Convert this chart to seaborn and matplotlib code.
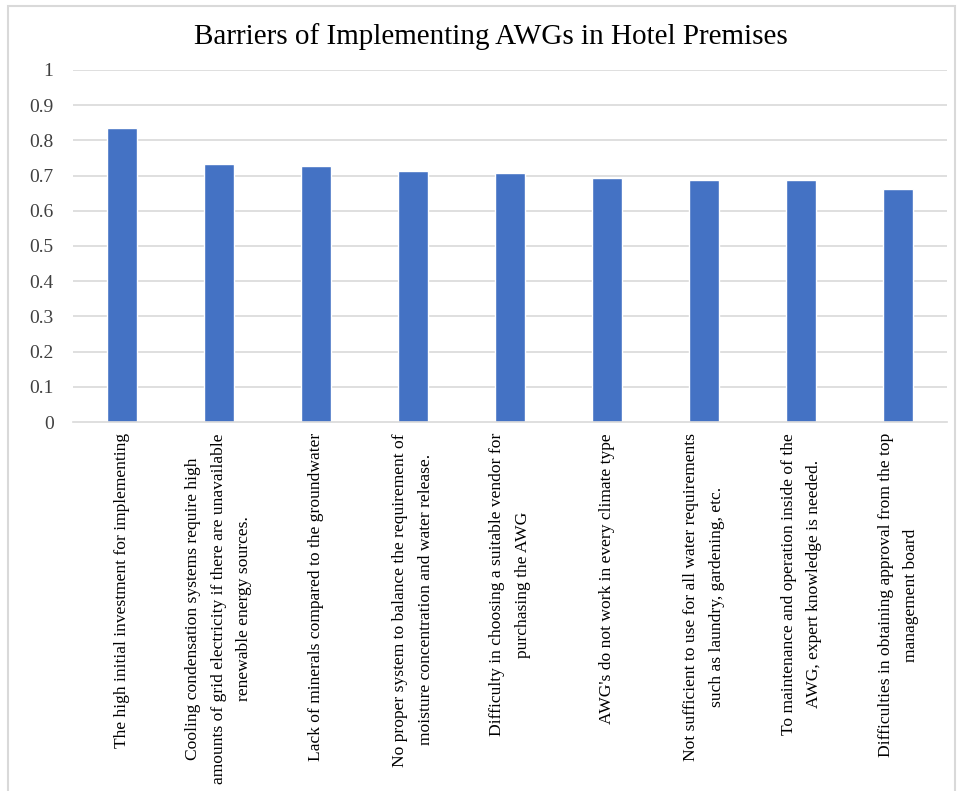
import matplotlib
matplotlib.use("Agg")
import matplotlib.pyplot as plt
import seaborn as sns
import pandas as pd
from matplotlib.patches import Rectangle

categories = [
    "The high initial investment for implementing",
    "Cooling condensation systems require high\namounts of grid electricity if there are unavailable\nrenewable energy sources.",
    "Lack of minerals compared to the groundwater",
    "No proper system to balance the requirement of\nmoisture concentration and water release.",
    "Difficulty in choosing a suitable vendor for\npurchasing the AWG",
    "AWG's do not work in every climate type",
    "Not sufficient to use for all water requirements\nsuch as laundry, gardening, etc.",
    "To maintenance and operation inside of the\nAWG, expert knowledge is needed.",
    "Difficulties in obtaining approval from the top\nmanagement board",
]
values = [0.835, 0.733, 0.726, 0.714, 0.706, 0.692, 0.688, 0.688, 0.661]
yticks = [0, 0.1, 0.2, 0.3, 0.4, 0.5, 0.6, 0.7, 0.8, 0.9, 1]
ytick_labels = ["0", "0.1", "0.2", "0.3", "0.4", "0.5", "0.6", "0.7", "0.8", "0.9", "1"]
title = "Barriers of Implementing AWGs in Hotel Premises"

sns.set_theme(style="white")
plt.rcParams["font.family"] = ["Liberation Serif", "DejaVu Serif"]

df = pd.DataFrame({"cat": categories, "val": values})

fig = plt.figure(figsize=(9.59, 7.91), dpi=100)
ax = fig.add_axes([73 / 959, 1 - 422 / 791, (947 - 73) / 959, (422 - 70) / 791])

ax.set_axisbelow(True)
for t in yticks[1:]:
    ax.axhline(t, color="#d9d9d9", lw=1.2, zorder=0)

sns.barplot(data=df, x="cat", y="val", color="#4472C4", width=0.31,
            saturation=1, ax=ax, zorder=2)

ax.set_ylim(0, 1)
ax.set_xlim(-0.5, len(categories) - 0.5)
ax.set_yticks(yticks)
ax.set_yticklabels(ytick_labels, fontsize=14, color="#404040")
ax.set_xlabel("")
ax.set_ylabel("")
ax.tick_params(axis="y", length=0, pad=14)
ax.tick_params(axis="x", length=0, pad=8)
ax.set_xticks(range(len(categories)))
ax.set_xticklabels(categories, rotation=90, fontsize=12.6, color="#000000",
                   ha="center", va="top", multialignment="center",
                   linespacing=1.8)

for s in ["top", "right", "left"]:
    ax.spines[s].set_visible(False)
ax.spines["bottom"].set_color("#d9d9d9")
ax.spines["bottom"].set_linewidth(1.2)

fig.text(491 / 959, 1 - 37 / 791, title, fontsize=21, ha="center", va="center",
         color="#000000")

fig.patches.append(Rectangle((8 / 959, 0 - 0.05), (955 - 8) / 959, 1 - 6 / 791 + 0.05,
                             transform=fig.transFigure, fill=False,
                             edgecolor="#d9d9d9", lw=1.5))

fig.savefig("out.png", dpi=100)
